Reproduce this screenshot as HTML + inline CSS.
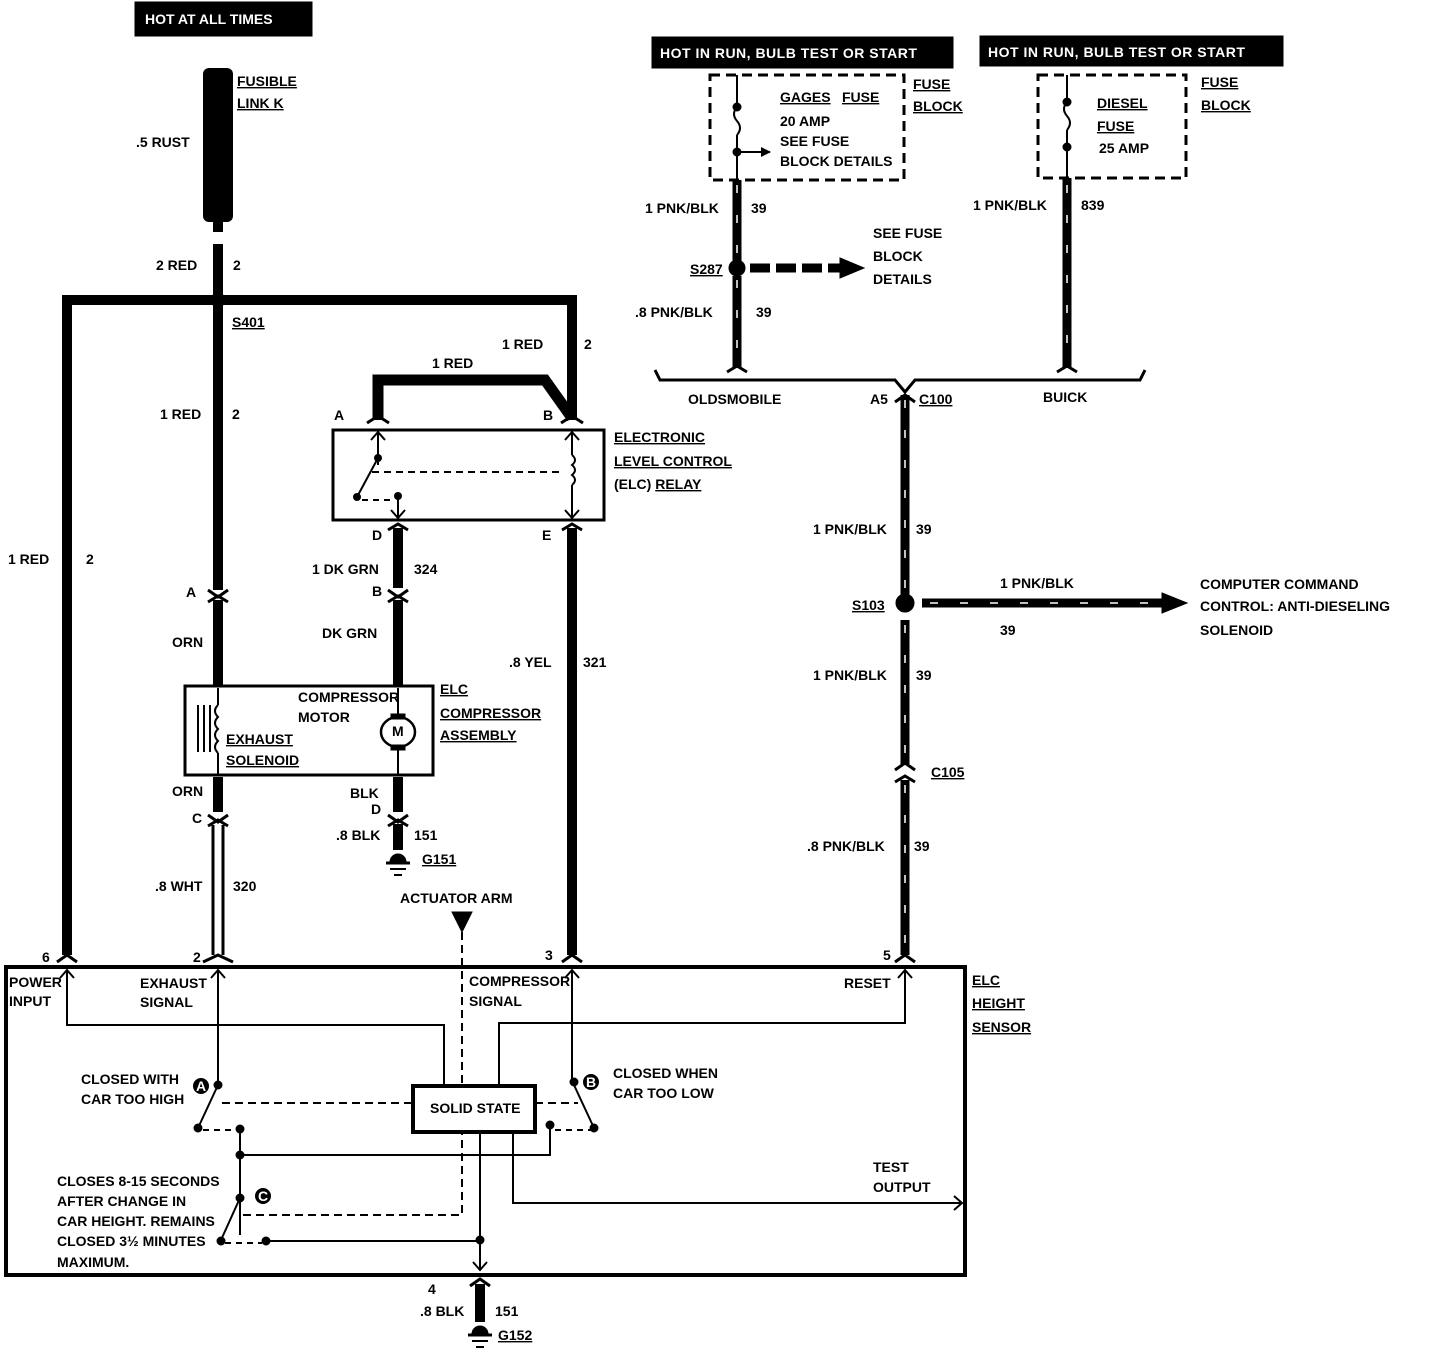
<!DOCTYPE html>
<html><head><meta charset="utf-8"><style>
html,body{margin:0;padding:0;background:#fff}
svg{display:block}
text{font-family:"Liberation Sans",sans-serif;font-weight:bold;font-size:14px;fill:#000}
.w{fill:#fff}
.u{text-decoration:underline}
</style></head><body>
<svg width="1440" height="1354" viewBox="0 0 1440 1354" xmlns="http://www.w3.org/2000/svg">
<defs>
<marker id="ah" markerWidth="10" markerHeight="10" refX="9" refY="5" orient="auto" markerUnits="userSpaceOnUse"><path d="M0,0 L10,5 L0,10 Z" fill="#000"/></marker>
</defs>
<g stroke="#000" fill="none" stroke-linecap="butt">
<rect x="135" y="2" width="177" height="34" fill="#000"/>
<rect x="652" y="37" width="301" height="31" fill="#000"/>
<rect x="980" y="36" width="303" height="30" fill="#000"/>

<rect x="203" y="68" width="30" height="154" rx="6" fill="#000" stroke="none"/>
<line x1="218" y1="222" x2="218" y2="232" stroke-width="10"/>
<line x1="218" y1="244" x2="218" y2="590" stroke-width="10"/>
<polyline points="67,955 67,300 572,300 572,420" stroke-width="10"/>
<circle cx="218" cy="300" r="7" fill="#000"/>
<polyline points="378,420 378,380 545,380 572,418" stroke-width="11"/>
<rect x="333" y="430" width="271" height="90" stroke-width="3"/>
<path d="M367,423 L378,416 L389,423 M561,423 L572,416 L583,423" stroke-width="3"/>
<line x1="378" y1="432" x2="378" y2="465" stroke-width="2"/>
<path d="M371,440 L378,432 L385,440" stroke-width="2"/>
<circle cx="378" cy="458" r="3.5" fill="#000"/>
<line x1="378" y1="458" x2="357" y2="497" stroke-width="2"/>
<circle cx="357" cy="497" r="3.5" fill="#000"/>
<path d="M362,500 L390,500" stroke-width="2" stroke-dasharray="6,5"/>
<circle cx="398" cy="496" r="3.5" fill="#000"/>
<line x1="398" y1="496" x2="398" y2="520" stroke-width="2"/>
<path d="M391,510 L398,518 L405,510" stroke-width="2"/>
<line x1="372" y1="472" x2="562" y2="472" stroke-width="2" stroke-dasharray="7,5"/>
<line x1="572" y1="432" x2="572" y2="455" stroke-width="2"/>
<path d="M572,455 q6,5 0,10 q6,5 0,10 q6,5 0,10" stroke-width="2"/>
<line x1="572" y1="485" x2="572" y2="520" stroke-width="2"/>
<path d="M565,440 L572,432 L579,440 M565,510 L572,518 L579,510" stroke-width="2"/>
<path d="M388,530 L398,524 L408,530" stroke-width="3"/>
<line x1="398" y1="528" x2="398" y2="588" stroke-width="10"/>
<path d="M388,590 L398,597 L408,590 M388,602 L398,596 L408,602" stroke-width="3"/>
<line x1="398" y1="600" x2="398" y2="686" stroke-width="10"/>
<path d="M562,530 L572,524 L582,530" stroke-width="3"/>
<line x1="572" y1="528" x2="572" y2="955" stroke-width="10"/>
<path d="M208,590 L218,597 L228,590 M208,602 L218,596 L228,602" stroke-width="3"/>
<line x1="218" y1="600" x2="218" y2="686" stroke-width="10"/>
<rect x="185" y="686" width="248" height="89" stroke-width="3"/>
<line x1="198" y1="705" x2="198" y2="752" stroke-width="2"/>
<line x1="204" y1="705" x2="204" y2="752" stroke-width="2"/>
<line x1="210" y1="705" x2="210" y2="752" stroke-width="2"/>
<line x1="218" y1="688" x2="218" y2="705" stroke-width="2"/>
<path d="M218,705 q-6,6 0,12 q-6,6 0,12 q-6,6 0,12 q-6,6 0,12" stroke-width="2"/>
<line x1="218" y1="753" x2="218" y2="775" stroke-width="2"/>
<line x1="398" y1="688" x2="398" y2="717" stroke-width="2"/>
<ellipse cx="398" cy="732" rx="17" ry="15" stroke-width="2.5"/>
<rect x="391" y="714" width="14" height="5" fill="#000"/><rect x="391" y="745" width="14" height="5" fill="#000"/>
<line x1="398" y1="750" x2="398" y2="775" stroke-width="2"/>
<line x1="218" y1="777" x2="218" y2="812" stroke-width="10"/>
<path d="M208,815 L218,822 L228,815 M208,826 L218,820 L228,826" stroke-width="3"/>
<line x1="213" y1="825" x2="213" y2="955" stroke-width="3"/>
<line x1="223" y1="825" x2="223" y2="955" stroke-width="3"/>
<line x1="398" y1="777" x2="398" y2="812" stroke-width="10"/>
<path d="M388,815 L398,822 L408,815 M388,826 L398,820 L408,826" stroke-width="3"/>
<line x1="398" y1="824" x2="398" y2="850" stroke-width="10"/>
<path d="M390,862 a8,8 0 0 1 16,0 Z" fill="#000"/>
<line x1="386" y1="863" x2="410" y2="863" stroke-width="3"/>
<line x1="390" y1="869" x2="406" y2="869" stroke-width="2"/>
<line x1="394" y1="875" x2="402" y2="875" stroke-width="2"/>
<path d="M452,912 L472,912 L462,932 Z" fill="#000"/>
<line x1="462" y1="932" x2="462" y2="1215" stroke-width="2" stroke-dasharray="8,5"/>
<path d="M57,962 L67,955 L77,962 M203,962 L218,955 L233,962 M562,962 L572,955 L582,962 M895,962 L905,955 L915,962" stroke-width="3"/>
<rect x="6" y="967" width="959" height="308" stroke-width="4"/>
<polyline points="67,970 67,1025 444,1025 444,1088" stroke-width="2"/>
<path d="M60,978 L67,970 L74,978" stroke-width="2"/>
<line x1="218" y1="970" x2="218" y2="1085" stroke-width="2"/>
<path d="M211,978 L218,970 L225,978" stroke-width="2"/>
<circle cx="218" cy="1085" r="4" fill="#000"/>
<line x1="218" y1="1085" x2="198" y2="1128" stroke-width="2"/>
<circle cx="198" cy="1128" r="4" fill="#000"/>
<path d="M203,1130 L240,1130" stroke-width="2" stroke-dasharray="6,5"/>
<circle cx="240" cy="1129" r="4" fill="#000"/>
<path d="M222,1103 L412,1103" stroke-width="2" stroke-dasharray="8,5"/>
<polyline points="240,1129 240,1235" stroke-width="2"/>
<circle cx="240" cy="1155" r="4" fill="#000"/>
<polyline points="240,1155 550,1155 550,1128" stroke-width="2"/>
<circle cx="550" cy="1125" r="4" fill="#000"/>
<path d="M555,1130 L593,1130" stroke-width="2" stroke-dasharray="6,5"/>
<circle cx="594" cy="1128" r="4" fill="#000"/>
<line x1="594" y1="1128" x2="574" y2="1085" stroke-width="2"/>
<circle cx="574" cy="1082" r="4" fill="#000"/>
<path d="M535,1103 L578,1103" stroke-width="2" stroke-dasharray="8,5"/>
<polyline points="572,970 572,1082" stroke-width="2"/>
<path d="M565,978 L572,970 L579,978" stroke-width="2"/>
<polyline points="499,1088 499,1023 905,1023 905,970" stroke-width="2"/>
<path d="M898,978 L905,970 L912,978" stroke-width="2"/>
<rect x="413" y="1086" width="122" height="46" stroke-width="4" fill="#fff"/>
<circle cx="240" cy="1198" r="4" fill="#000"/>
<line x1="240" y1="1198" x2="221" y2="1240" stroke-width="2"/>
<circle cx="221" cy="1241" r="4" fill="#000"/>
<path d="M225,1243 L262,1243" stroke-width="2" stroke-dasharray="6,5"/>
<circle cx="266" cy="1241" r="4" fill="#000"/>
<path d="M243,1215 L462,1215" stroke-width="2" stroke-dasharray="8,5"/>
<polyline points="266,1241 480,1241" stroke-width="2"/>
<line x1="480" y1="1134" x2="480" y2="1270" stroke-width="2"/>
<circle cx="480" cy="1240" r="4" fill="#000"/>
<path d="M473,1262 L480,1270 L487,1262" stroke-width="2"/>
<polyline points="513,1134 513,1203 962,1203" stroke-width="2"/>
<path d="M954,1196 L962,1203 L954,1210" stroke-width="2"/>
<path d="M470,1286 L480,1279 L490,1286" stroke-width="3"/>
<line x1="480" y1="1284" x2="480" y2="1322" stroke-width="10"/>
<path d="M472,1334 a8,8 0 0 1 16,0 Z" fill="#000"/>
<line x1="468" y1="1335" x2="492" y2="1335" stroke-width="3"/>
<line x1="472" y1="1341" x2="488" y2="1341" stroke-width="2"/>
<line x1="476" y1="1347" x2="484" y2="1347" stroke-width="2"/>

<rect x="710" y="75" width="194" height="105" stroke-width="3" stroke-dasharray="10,6"/>
<rect x="1038" y="75" width="148" height="103" stroke-width="3" stroke-dasharray="10,6"/>
<line x1="737" y1="75" x2="737" y2="107" stroke-width="2"/>
<circle cx="737" cy="107" r="4" fill="#000"/>
<path d="M737,107 q-6,7 0,14 q6,7 0,14" stroke-width="2"/>
<circle cx="737" cy="152" r="4" fill="#000"/>
<line x1="737" y1="135" x2="737" y2="180" stroke-width="2"/>
<line x1="737" y1="152" x2="770" y2="152" stroke-width="2" marker-end="url(#ah)"/>
<line x1="1067" y1="75" x2="1067" y2="102" stroke-width="2"/>
<circle cx="1067" cy="102" r="4" fill="#000"/>
<path d="M1067,102 q-6,7 0,14 q6,7 0,14" stroke-width="2"/>
<circle cx="1067" cy="147" r="4" fill="#000"/>
<line x1="1067" y1="130" x2="1067" y2="178" stroke-width="2"/>
<g stroke-width="9">
<line x1="737" y1="180" x2="737" y2="262"/>
<line x1="737" y1="276" x2="737" y2="368"/>
<line x1="1067" y1="178" x2="1067" y2="368"/>
<line x1="905" y1="395" x2="905" y2="595"/>
<line x1="905" y1="620" x2="905" y2="765"/>
<line x1="905" y1="780" x2="905" y2="955"/>
<line x1="922" y1="603" x2="1165" y2="603"/>
</g>
<g stroke="#fff" stroke-width="1.5" stroke-dasharray="8,22">
<line x1="737" y1="185" x2="737" y2="262"/>
<line x1="737" y1="280" x2="737" y2="365"/>
<line x1="1067" y1="185" x2="1067" y2="365"/>
<line x1="905" y1="400" x2="905" y2="595"/>
<line x1="905" y1="625" x2="905" y2="765"/>
<line x1="905" y1="785" x2="905" y2="950"/>
<line x1="930" y1="603" x2="1160" y2="603"/>
</g>
<path d="M1162,593 L1187,603 L1162,613 Z" fill="#000"/>
<circle cx="737" cy="268" r="8" fill="#000"/>
<line x1="750" y1="268" x2="840" y2="268" stroke-width="9" stroke-dasharray="20,6"/>
<path d="M840,258 L864,268 L840,278 Z" fill="#000"/>
<circle cx="905" cy="603" r="9" fill="#000"/>
<path d="M727,372 L737,366 L747,372 M1057,372 L1067,366 L1077,372" stroke-width="3"/>
<polyline points="655,370 660,380 895,380 905,392 915,380 1140,380 1145,370" stroke-width="3"/>
<path d="M895,402 L905,395 L915,402" stroke-width="3"/>
<path d="M895,770 L905,763 L915,770 M895,782 L905,776 L915,782" stroke-width="3"/>
</g>

<text x="145" y="24" class="w" font-size="15">HOT AT ALL TIMES</text>
<text x="660" y="58" class="w" font-size="13" letter-spacing="0.5">HOT IN RUN, BULB TEST OR START</text>
<text x="988" y="57" class="w" font-size="13" letter-spacing="0.5">HOT IN RUN, BULB TEST OR START</text>
<text x="237" y="86" class="u">FUSIBLE</text>
<text x="237" y="108" class="u">LINK K</text>
<text x="136" y="147">.5 RUST</text>
<text x="156" y="270">2 RED</text><text x="233" y="270">2</text>
<text x="232" y="327" class="u">S401</text>
<text x="502" y="349">1 RED</text><text x="584" y="349">2</text>
<text x="432" y="368">1 RED</text>
<text x="160" y="419">1 RED</text><text x="232" y="419">2</text>
<text x="334" y="420">A</text><text x="543" y="420">B</text>
<text x="614" y="442" class="u">ELECTRONIC</text>
<text x="614" y="466" class="u">LEVEL CONTROL</text>
<text x="614" y="489">(ELC) <tspan class="u">RELAY</tspan></text>
<text x="372" y="540">D</text><text x="542" y="540">E</text>
<text x="8" y="564">1 RED</text><text x="86" y="564">2</text>
<text x="312" y="574">1 DK GRN</text><text x="414" y="574">324</text>
<text x="186" y="597">A</text><text x="372" y="596">B</text>
<text x="172" y="647">ORN</text>
<text x="322" y="638">DK GRN</text>
<text x="509" y="667">.8 YEL</text><text x="583" y="667">321</text>
<text x="440" y="694" class="u">ELC</text>
<text x="440" y="718" class="u">COMPRESSOR</text>
<text x="440" y="740" class="u">ASSEMBLY</text>
<text x="298" y="702" font-size="11.5">COMPRESSOR</text>
<text x="298" y="722" font-size="11.5">MOTOR</text>
<text x="392" y="736" font-size="10">M</text>
<text x="226" y="744" class="u">EXHAUST</text>
<text x="226" y="765" class="u">SOLENOID</text>
<text x="172" y="796">ORN</text><text x="350" y="798">BLK</text>
<text x="192" y="823">C</text><text x="371" y="814">D</text>
<text x="336" y="840">.8 BLK</text><text x="414" y="840">151</text>
<text x="422" y="864" class="u">G151</text>
<text x="155" y="891">.8 WHT</text><text x="233" y="891">320</text>
<text x="400" y="903">ACTUATOR ARM</text>
<text x="42" y="962">6</text><text x="193" y="962">2</text><text x="545" y="960">3</text><text x="883" y="960">5</text>
<text x="972" y="985" class="u">ELC</text>
<text x="972" y="1008" class="u">HEIGHT</text>
<text x="972" y="1032" class="u">SENSOR</text>
<text x="9" y="987" font-size="12">POWER</text><text x="9" y="1006" font-size="12">INPUT</text>
<text x="140" y="988" font-size="12">EXHAUST</text><text x="140" y="1007" font-size="12">SIGNAL</text>
<text x="469" y="986" font-size="12">COMPRESSOR</text><text x="469" y="1006" font-size="12">SIGNAL</text>
<text x="844" y="988" font-size="12">RESET</text>
<text x="81" y="1084" font-size="12">CLOSED WITH</text><text x="81" y="1104" font-size="12">CAR TOO HIGH</text>
<text x="613" y="1078" font-size="12">CLOSED WHEN</text><text x="613" y="1098" font-size="12">CAR TOO LOW</text>
<text x="430" y="1113" font-size="12">SOLID STATE</text>
<text x="873" y="1172" font-size="12">TEST</text><text x="873" y="1192" font-size="12">OUTPUT</text>
<text x="57" y="1186" font-size="12">CLOSES 8-15 SECONDS</text>
<text x="57" y="1206" font-size="12">AFTER CHANGE IN</text>
<text x="57" y="1226" font-size="12">CAR HEIGHT.  REMAINS</text>
<text x="57" y="1246" font-size="12">CLOSED 3½ MINUTES</text>
<text x="57" y="1267" font-size="12">MAXIMUM.</text>
<circle cx="201" cy="1086" r="8" fill="#000"/><text x="196" y="1091" class="w" font-size="11">A</text>
<circle cx="591" cy="1082" r="8" fill="#000"/><text x="586" y="1087" class="w" font-size="11">B</text>
<circle cx="263" cy="1196" r="8" fill="#000"/><text x="258" y="1201" class="w" font-size="11">C</text>
<text x="428" y="1294">4</text>
<text x="420" y="1316">.8 BLK</text><text x="495" y="1316">151</text>
<text x="498" y="1340" class="u">G152</text>
<text x="780" y="102" class="u">GAGES</text><text x="842" y="102" class="u">FUSE</text>
<text x="780" y="126" font-size="12">20 AMP</text>
<text x="780" y="146" font-size="12">SEE FUSE</text>
<text x="780" y="166" font-size="12">BLOCK DETAILS</text>
<text x="913" y="89" class="u">FUSE</text><text x="913" y="111" class="u">BLOCK</text>
<text x="1097" y="108" class="u">DIESEL</text><text x="1097" y="131" class="u">FUSE</text>
<text x="1099" y="153" font-size="12">25 AMP</text>
<text x="1201" y="87" class="u">FUSE</text><text x="1201" y="110" class="u">BLOCK</text>
<text x="645" y="213">1 PNK/BLK</text><text x="751" y="213">39</text>
<text x="973" y="210">1 PNK/BLK</text><text x="1081" y="210">839</text>
<text x="873" y="238">SEE FUSE</text><text x="873" y="261">BLOCK</text><text x="873" y="284">DETAILS</text>
<text x="690" y="274" class="u">S287</text>
<text x="635" y="317">.8 PNK/BLK</text><text x="756" y="317">39</text>
<text x="688" y="404">OLDSMOBILE</text>
<text x="870" y="404">A5</text><text x="919" y="404" class="u">C100</text>
<text x="1043" y="402">BUICK</text>
<text x="813" y="534">1 PNK/BLK</text><text x="916" y="534">39</text>
<text x="1000" y="588">1 PNK/BLK</text>
<text x="1000" y="635">39</text>
<text x="1200" y="589">COMPUTER COMMAND</text>
<text x="1200" y="611">CONTROL: ANTI-DIESELING</text>
<text x="1200" y="635">SOLENOID</text>
<text x="852" y="610" class="u">S103</text>
<text x="813" y="680">1 PNK/BLK</text><text x="916" y="680">39</text>
<text x="931" y="777" class="u">C105</text>
<text x="807" y="851">.8 PNK/BLK</text><text x="914" y="851">39</text>
</svg>
</body></html>
